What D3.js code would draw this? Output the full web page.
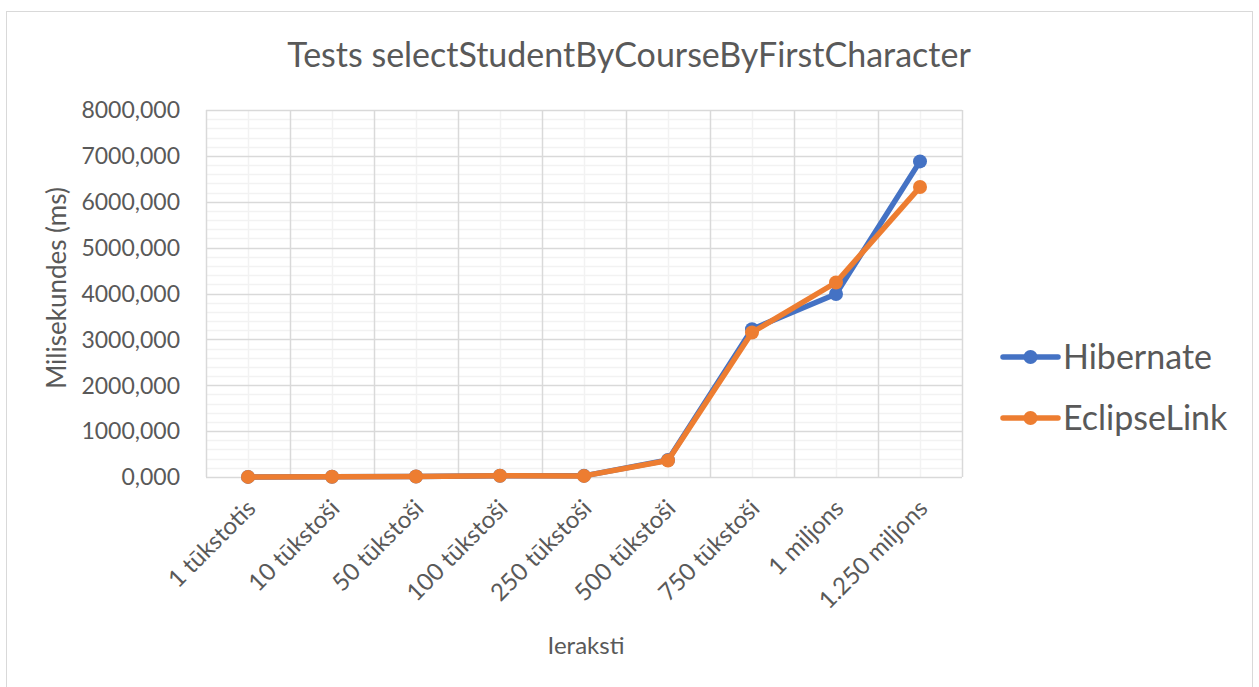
<!DOCTYPE html>
<html>
<head>
<meta charset="utf-8">
<script src="https://cdn.jsdelivr.net/npm/d3@7"></script>
<style>
  body { margin: 0; background: #fff; }
  svg text { font-family: Lato, "Open Sans", sans-serif; fill: #595959; }
</style>
</head>
<body>
<div id="chart"></div>
<script>
var categories = ["1 tūkstotis", "10 tūkstoši", "50 tūkstoši", "100 tūkstoši", "250 tūkstoši",
  "500 tūkstoši", "750 tūkstoši", "1 miljons", "1.250 miljons"];
var hibernate = [2, 6, 12, 28, 25, 370, 3220, 3990, 6880];
var eclipseLink = [2, 5, 11, 26, 24, 360, 3150, 4240, 6320];
var yTicks = [0, 1000, 2000, 3000, 4000, 5000, 6000, 7000, 8000];
var seriesNames = ["Hibernate", "EclipseLink"];
var colors = ["#4472C4", "#ED7D31"];

var W = 1259, H = 687;
var margin = { top: 110, right: 297, bottom: 210, left: 206 };
var width = W - margin.left - margin.right;
var height = H - margin.top - margin.bottom;

var svg = d3.select("#chart").append("svg")
  .attr("width", W).attr("height", H);

// chart frame
svg.append("rect")
  .attr("x", 6.5).attr("y", 11.5).attr("width", 1246).attr("height", 700)
  .attr("fill", "#fff").attr("stroke", "#d9d9d9");

var g = svg.append("g").attr("transform", "translate(" + margin.left + "," + margin.top + ")");

var x = d3.scaleBand().domain(categories).range([0, width]);
var y = d3.scaleLinear().domain([0, 8000]).range([height, 0]);

// minor horizontal grid
var minor = d3.range(0, 8001, 200).filter(function (v) { return v % 1000 !== 0; });
g.selectAll(".hminor").data(minor).enter().append("line")
  .attr("x1", 0).attr("x2", width)
  .attr("y1", function (d) { return Math.round(y(d)) + 0.5; })
  .attr("y2", function (d) { return Math.round(y(d)) + 0.5; })
  .attr("stroke", "#f2f2f2").attr("stroke-width", 1.5);

// minor vertical grid (category centres)
g.selectAll(".vminor").data(categories).enter().append("line")
  .attr("x1", function (d) { return Math.round(x(d) + x.bandwidth() / 2) + 0.5; })
  .attr("x2", function (d) { return Math.round(x(d) + x.bandwidth() / 2) + 0.5; })
  .attr("y1", 0).attr("y2", height)
  .attr("stroke", "#f2f2f2").attr("stroke-width", 1.5);

// major horizontal grid
g.selectAll(".hmajor").data(yTicks).enter().append("line")
  .attr("x1", 0).attr("x2", width)
  .attr("y1", function (d) { return Math.round(y(d)) + 0.5; })
  .attr("y2", function (d) { return Math.round(y(d)) + 0.5; })
  .attr("stroke", "#d9d9d9").attr("stroke-width", 1.5);

// major vertical grid (category boundaries)
var bounds = categories.map(function (d) { return x(d); }).concat([width]);
g.selectAll(".vmajor").data(bounds).enter().append("line")
  .attr("x1", function (d) { return Math.round(d) + 0.5; })
  .attr("x2", function (d) { return Math.round(d) + 0.5; })
  .attr("y1", 0).attr("y2", height)
  .attr("stroke", "#d9d9d9").attr("stroke-width", 1.5);

// y tick labels
var fmt = function (v) { return v + ",000"; };
g.selectAll(".ylab").data(yTicks).enter().append("text")
  .attr("x", -26).attr("y", function (d) { return y(d); })
  .attr("dy", "0.36em")
  .attr("text-anchor", "end")
  .style("font-size", "23px")
  .text(fmt);

// x tick labels
g.selectAll(".xlab").data(categories).enter().append("text")
  .attr("transform", function (d) {
    return "translate(" + (x(d) + x.bandwidth() / 2 + 9) + "," + (height + 33) + ") rotate(-45)";
  })
  .attr("text-anchor", "end")
  .style("font-size", "24px")
  .text(function (d) { return d; });

// lines
var series = [hibernate, eclipseLink];
var line = d3.line()
  .x(function (d, i) { return x(categories[i]) + x.bandwidth() / 2; })
  .y(function (d) { return y(d); });

series.forEach(function (s, k) {
  g.append("path").datum(s)
    .attr("d", line)
    .attr("fill", "none")
    .attr("stroke", colors[k])
    .attr("stroke-width", 5.5)
    .attr("stroke-linejoin", "round")
    .attr("stroke-linecap", "round");
  g.selectAll(".pt" + k).data(s).enter().append("circle")
    .attr("cx", function (d, i) { return x(categories[i]) + x.bandwidth() / 2; })
    .attr("cy", function (d) { return y(d); })
    .attr("r", 7)
    .attr("fill", colors[k]);
});

// title
svg.append("text")
  .attr("x", 629).attr("y", 67)
  .attr("text-anchor", "middle")
  .style("font-size", "34px")
  .text("Tests selectStudentByCourseByFirstCharacter");

// axis titles
svg.append("text")
  .attr("transform", "translate(66,288) rotate(-90)")
  .attr("text-anchor", "middle")
  .style("font-size", "26px")
  .text("Milisekundes (ms)");

svg.append("text")
  .attr("x", 586).attr("y", 654)
  .attr("text-anchor", "middle")
  .style("font-size", "24px")
  .text("Ieraksti");

// legend
var legend = svg.selectAll(".leg").data(seriesNames).enter().append("g")
  .attr("transform", function (d, i) { return "translate(1003," + (357 + i * 61) + ")"; });
legend.append("line")
  .attr("x1", 0).attr("x2", 55).attr("y1", 0).attr("y2", 0)
  .attr("stroke", function (d, i) { return colors[i]; })
  .attr("stroke-width", 5.5).attr("stroke-linecap", "round");
legend.append("circle")
  .attr("cx", 27.5).attr("cy", 0).attr("r", 7)
  .attr("fill", function (d, i) { return colors[i]; });
legend.append("text")
  .attr("x", 60).attr("y", 0).attr("dy", "0.36em")
  .style("font-size", "34px")
  .text(function (d) { return d; });
</script>
</body>
</html>
